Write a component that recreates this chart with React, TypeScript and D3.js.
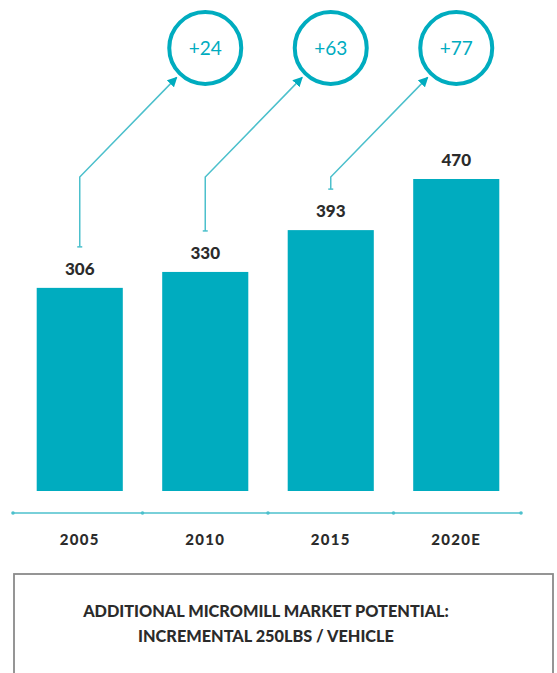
import React, {useEffect, useRef} from 'react';
import * as d3 from 'd3';

const years: string[] = ['2005', '2010', '2015', '2020E'];
const values: number[] = [306, 330, 393, 470];
const increments: string[] = ['+24', '+63', '+77'];
const titleLines: string[] = ['ADDITIONAL MICROMILL MARKET POTENTIAL:', 'INCREMENTAL 250LBS / VEHICLE'];

const TEAL = '#00acbf';
const LINE = '#4cc0cc';
const FONT = 'Lato, "Open Sans", sans-serif';

const App = () => {
  const ref: any = useRef();

  useEffect(() => {
    document.body.style.margin = '0';
    const width = 557;
    const height = 673;

    const svg: any = d3.select(ref.current)
      .call((g: any) => g.select('svg').remove())
      .append('svg')
      .attr('width', width)
      .attr('height', height)
      .style('display', 'block')
      .style('background', '#fff');

    const x = d3.scaleBand<string>()
      .domain(years)
      .range([17, 519])
      .paddingInner(0.314)
      .paddingOuter(0.157);

    const y = d3.scaleLinear()
      .domain([0, 470])
      .range([491, 179]);

    const cx = (yr: string) => (x(yr) as number) + x.bandwidth() / 2;

    // axis
    const axis = svg.append('g').attr('transform', 'translate(0,513)');
    axis.append('line')
      .attr('x1', 13).attr('x2', 521)
      .attr('stroke', LINE).attr('stroke-width', 1.5);
    const edges = [13, ...years.slice(1).map(yr => (x(yr) as number) - x.step() * x.paddingInner() / 2), 521];
    axis.selectAll('circle.edge').data(edges).enter().append('circle')
      .attr('cx', (d: number) => d).attr('cy', 0).attr('r', 1.8).attr('fill', LINE);

    svg.append('g').selectAll('text').data(years).enter().append('text')
      .attr('x', (d: string) => cx(d))
      .attr('y', 545)
      .attr('text-anchor', 'middle')
      .attr('font-family', FONT)
      .attr('font-weight', 900)
      .attr('font-size', 15)
      .attr('letter-spacing', 1.3)
      .attr('fill', '#2b2b2b')
      .text((d: string) => d);

    // bars
    svg.append('g').selectAll('rect').data(values).enter().append('rect')
      .attr('x', (_: number, i: number) => x(years[i]))
      .attr('y', (d: number) => y(d))
      .attr('width', x.bandwidth())
      .attr('height', (d: number) => y(0) - y(d))
      .attr('fill', TEAL);

    svg.append('g').selectAll('text').data(values).enter().append('text')
      .attr('x', (_: number, i: number) => cx(years[i]))
      .attr('y', (d: number) => y(d) - 13)
      .attr('text-anchor', 'middle')
      .attr('font-family', FONT)
      .attr('font-weight', 900)
      .attr('font-size', 17)
      .attr('fill', '#2b2b2b')
      .text((d: number) => d);

    // arrowhead
    svg.append('defs').append('marker')
      .attr('id', 'arr')
      .attr('viewBox', '0 0 10 10')
      .attr('refX', 9).attr('refY', 5)
      .attr('markerWidth', 10).attr('markerHeight', 10)
      .attr('markerUnits', 'userSpaceOnUse')
      .attr('orient', 'auto')
      .append('path').attr('d', 'M0,0L10,5L0,10Z').attr('fill', TEAL);

    const circleY = 48;
    const r = 36;
    const elbowY = 177;

    increments.forEach((inc, i) => {
      const x0 = cx(years[i]);
      const y0 = y(values[i]) - 41;
      const c = cx(years[i + 1]);
      const dx = c - x0;
      const dy = circleY - elbowY;
      const dist = Math.sqrt(dx * dx + dy * dy);
      const k = (dist - r - 5) / dist;
      const tip: [number, number] = [x0 + dx * k, elbowY + dy * k];

      const path = d3.line()([[x0, y0], [x0, elbowY], tip]);
      svg.append('path')
        .attr('d', path)
        .attr('fill', 'none')
        .attr('stroke', LINE)
        .attr('stroke-width', 1.5)
        .attr('marker-end', 'url(#arr)');
      svg.append('line')
        .attr('x1', x0 - 2.5).attr('x2', x0 + 2.5)
        .attr('y1', y0).attr('y2', y0)
        .attr('stroke', LINE).attr('stroke-width', 1.5);

      svg.append('circle')
        .attr('cx', c).attr('cy', circleY).attr('r', r)
        .attr('fill', '#fff')
        .attr('stroke', TEAL)
        .attr('stroke-width', 4);
      svg.append('text')
        .attr('x', c).attr('y', circleY + 7)
        .attr('text-anchor', 'middle')
        .attr('font-family', FONT)
        .attr('font-size', 19)
        .attr('fill', TEAL)
        .text(inc);
    });

    // title box
    svg.append('rect')
      .attr('x', 14).attr('y', 574)
      .attr('width', 539).attr('height', 120)
      .attr('fill', 'none')
      .attr('stroke', '#8a8a8a')
      .attr('stroke-width', 1.8);

    svg.append('g').selectAll('text').data(titleLines).enter().append('text')
      .attr('x', 266)
      .attr('y', (_: string, i: number) => 617 + i * 25)
      .attr('text-anchor', 'middle')
      .attr('font-family', FONT)
      .attr('font-weight', 900)
      .attr('font-size', 16.3)
      .attr('fill', '#2b2b2b')
      .text((d: string) => d);
  }, []);

  return <div ref={ref}/>;
};

export default App;
